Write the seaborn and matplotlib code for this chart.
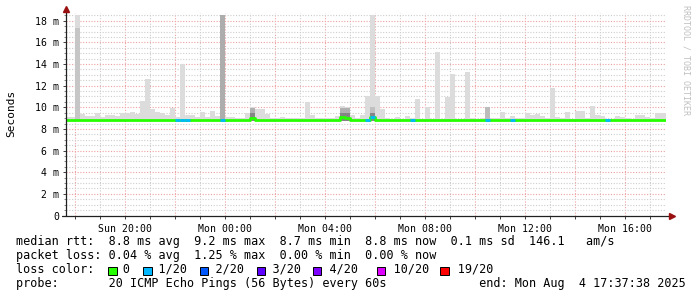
import matplotlib
matplotlib.use("Agg")
import matplotlib.pyplot as plt
from matplotlib.patches import Rectangle
from matplotlib.ticker import FixedLocator, MultipleLocator
import numpy as np
import pandas as pd
import seaborn as sns

# ---------------- data ----------------
# 12-minute bins, index relative to Sun 18:00 (bin j starts at j*0.2 h)
bin_index = list(range(-2, 119))
smoke_max = [
    9.1, 9.1,                                                   # -2, -1
    18.5, 9.4, 9.2, 9.2, 9.5, 9.1, 9.25, 9.25, 9.2, 9.5,        # 0-9
    9.5, 9.6, 9.4, 10.55, 12.65, 9.8, 9.6, 9.5, 9.25, 9.95,     # 10-19
    9.1, 14.0, 9.3, 9.25, 9.1, 9.6, 9.1, 9.7, 9.2, 18.5,        # 20-29
    9.1, 9.1, 9.0, 9.0, 9.5, 10.05, 9.8, 9.85, 9.4, 9.0,        # 30-39
    9.0, 9.1, 9.0, 9.05, 9.0, 9.0, 10.5, 9.25, 9.0, 9.0,        # 40-49
    9.0, 9.0, 9.2, 10.1, 10.05, 9.3, 9.0, 9.3, 11.0, 18.5,      # 50-59
    11.0, 9.8, 9.0, 8.9, 9.1, 8.95, 9.2, 9.0, 10.75, 8.9,       # 60-69
    10.0, 8.9, 15.1, 8.9, 10.95, 13.05, 8.9, 8.9, 13.3, 9.0,    # 70-79
    8.9, 9.0, 10.05, 9.05, 9.0, 9.6, 9.0, 9.2, 9.0, 9.0,        # 80-89
    9.45, 9.3, 9.4, 9.2, 9.05, 11.8, 9.1, 9.0, 9.55, 8.9,       # 90-99
    9.65, 9.65, 9.05, 10.15, 9.3, 9.2, 8.9, 8.9, 9.2, 9.1,      # 100-109
    9.05, 8.9, 9.25, 9.25, 9.1, 9.0, 9.45, 9.45, 9.45,          # 110-118
]
smoke_min = 8.7

mid_bins = [0, 29, 35, 53, 54, 59, 82]
mid_top = [17.3, 18.5, 9.9, 9.95, 9.95, 10.0, 10.05]
mid_shade = ["#c6c6c6", "#adadad", "#b0b0b0", "#b0b0b0", "#b0b0b0",
             "#c0c0c0", "#bcbcbc"]
dark_bins = [35, 53, 54, 59]
dark_top = [9.45, 9.5, 9.5, 9.45]

median_base = 8.8
median_bins = [35, 53, 54, 59]
median_vals = [9.0, 9.1, 9.05, 9.15]

loss_bins = [20, 21, 22, 29, 58, 59, 67, 82, 87, 106]   # 1/20 loss

x_tick_hours = [2, 6, 10, 14, 18, 22]
x_tick_labels = ["Sun 20:00", "Mon 00:00", "Mon 04:00", "Mon 08:00",
                 "Mon 12:00", "Mon 16:00"]
y_ticks = [0, 2, 4, 6, 8, 10, 12, 14, 16, 18]
y_tick_labels = ["0"] + [f"{v} m" for v in y_ticks[1:]]

loss_names = ["0", "1/20", "2/20", "3/20", "4/20", "10/20", "19/20"]
loss_colors = ["#26ff00", "#00b8ff", "#0059ff", "#5e00ff", "#7e00ff",
               "#dd00ff", "#ff0000"]
loss_text_pos = [15, 20, 28, 36, 44, 53, 62]

line1 = [(0, "median rtt:"), (13, "8.8 ms avg"), (25, "9.2 ms max"),
         (37, "8.7 ms min"), (49, "8.8 ms now"), (61, "0.1 ms sd"),
         (72, "146.1"), (80, "am/s")]
line2 = [(0, "packet loss:"), (13, "0.04 % avg"), (25, "1.25 % max"),
         (37, "0.00 % min"), (49, "0.00 % now")]
line4 = [(0, "probe:"), (13, "20 ICMP Echo Pings (56 Bytes) every 60s"),
         (65, "end: Mon Aug  4 17:37:38 2025")]

# ---------------- frame ----------------
BIN = 0.2
df = pd.DataFrame({"j": bin_index, "smax": smoke_max})
df["start"] = df["j"] * BIN
df["median"] = median_base
for b, v in zip(median_bins, median_vals):
    df.loc[df["j"] == b, "median"] = v

sns.set_theme(style="white")
plt.rcParams["font.family"] = ["DejaVu Sans Mono"]

W, H = 697, 297
fig = plt.figure(figsize=(W / 100, H / 100), dpi=100)
fig.patch.set_facecolor("white")
x_left, x_right = 66.0, 666.0
y_bot, y_top = 215.5, 13.3
ax = fig.add_axes([x_left / W, (H - y_bot) / H, (x_right - x_left) / W,
                   (y_bot - y_top) / H])
ax.set_facecolor("white")

t0 = -(22 + 22 / 60) / 60  # 17:37:38 relative to 18:00 in hours
ax.set_xlim(t0, t0 + 24)
ax.set_ylim(0, 18.69)

# grid
for h in range(0, 24):
    col = "#f0a0a0" if h % 2 == 0 else "#cdcdcd"
    ax.axvline(h, color=col, lw=0.8, ls=(0, (1, 1.5)), zorder=0)
for k in range(1, 38):
    v = k * 0.5
    col = "#f0a0a0" if k % 4 == 0 else "#cdcdcd"
    ax.axhline(v, color=col, lw=0.8, ls=(0, (1, 1.5)), zorder=0)

# smoke
ax.bar(df["start"], df["smax"] - smoke_min, bottom=smoke_min, width=BIN,
       align="edge", color="#dcdcdc", linewidth=0, zorder=2)
mid = df[df["j"].isin(mid_bins)].copy()
mid["top"] = [dict(zip(mid_bins, mid_top))[j] for j in mid["j"]]
mid["shade"] = [dict(zip(mid_bins, mid_shade))[j] for j in mid["j"]]
ax.bar(mid["start"], mid["top"] - smoke_min, bottom=smoke_min, width=BIN,
       align="edge", color=list(mid["shade"]), linewidth=0, zorder=3)
dark = df[df["j"].isin(dark_bins)].copy()
dark["top"] = [dict(zip(dark_bins, dark_top))[j] for j in dark["j"]]
ax.bar(dark["start"], dark["top"] - smoke_min, bottom=smoke_min, width=BIN,
       align="edge", color="#858585", linewidth=0, zorder=4)

# median line (steps)
step = pd.DataFrame({"x": list(df["start"]) + [df["start"].iloc[-1] + BIN],
                     "y": list(df["median"]) + [df["median"].iloc[-1]]})
sns.lineplot(data=step, x="x", y="y", ax=ax, drawstyle="steps-post",
             color=loss_colors[0], lw=2.0, estimator=None, zorder=5,
             solid_capstyle="butt")
lb = df[df["j"].isin(loss_bins)]
ax.hlines(lb["median"], lb["start"], lb["start"] + BIN, color=loss_colors[1],
          lw=2.0, zorder=6, capstyle="butt")

# axes styling
for s in ax.spines.values():
    s.set_visible(False)
ax.set_xlabel("")
ax.set_ylabel("")
ax.xaxis.set_major_locator(FixedLocator(x_tick_hours))
ax.xaxis.set_minor_locator(FixedLocator(list(range(0, 24))))
ax.set_xticklabels(x_tick_labels)
ax.set_yticks(y_ticks)
ax.set_yticklabels(y_tick_labels)
ax.yaxis.set_minor_locator(MultipleLocator(0.5))
ax.tick_params(axis="x", which="both", bottom=True, length=2, width=0.7,
               color="#404040", labelsize=7.1, pad=4, labelcolor="#000000")
ax.tick_params(axis="y", which="major", left=True, length=2.5, width=0.7,
               color="#404040", labelsize=7.1, pad=2.5, labelcolor="#000000")
ax.tick_params(axis="y", which="minor", left=True, length=1.5, width=0.6,
               color="#707070")

# axis lines with arrows
ax.plot([0, 0], [0, 1.018], transform=ax.transAxes, color="#202020", lw=0.9,
        clip_on=False, zorder=7)
ax.plot([-0.006, 1.008], [0, 0], transform=ax.transAxes, color="#202020",
        lw=0.9, clip_on=False, zorder=7)
ax.plot([0], [1.02], marker="^", transform=ax.transAxes, color="#9a1010",
        ms=4.5, clip_on=False, zorder=8)
ax.plot([1.01], [0], marker=">", transform=ax.transAxes, color="#9a1010",
        ms=4.5, clip_on=False, zorder=8)

# y label and watermark
fig.text(11 / W, 1 - 113 / H, "Seconds", rotation=90, ha="center",
         va="center", fontsize=8, color="#000000")
fig.text(686 / W, 1 - 60 / H, "RRDTOOL / TOBI OETIKER", rotation=270,
         ha="center", va="center", fontsize=6, color="#c0c0c0")


# legend text
def build(items):
    s = ""
    for pos, txt in items:
        s = s.ljust(pos) + txt
    return s


FS = 8.45
CW = FS / 72 * 100 * 0.6021
X0 = 16
rows_y = [241, 255, 269.3, 283.3]
fig.text(X0 / W, 1 - rows_y[0] / H, build(line1), fontsize=FS, va="center",
         ha="left", color="#000000")
fig.text(X0 / W, 1 - rows_y[1] / H, build(line2), fontsize=FS, va="center",
         ha="left", color="#000000")
line3 = [(0, "loss color:")] + list(zip(loss_text_pos, loss_names))
fig.text(X0 / W, 1 - rows_y[2] / H, build(line3), fontsize=FS, va="center",
         ha="left", color="#000000")
for pos, col in zip(loss_text_pos, loss_colors):
    sx = X0 + (pos - 2) * CW + 0.3
    sq = 8.4
    fig.patches.append(Rectangle(((sx) / W, 1 - (270.9 + sq / 2) / H),
                                 sq / W, sq / H, transform=fig.transFigure,
                                 facecolor=col, edgecolor="#000000", lw=0.7))
fig.text(X0 / W, 1 - rows_y[3] / H, build(line4), fontsize=FS, va="center",
         ha="left", color="#000000")

fig.savefig("out.png", dpi=100, facecolor="white")
